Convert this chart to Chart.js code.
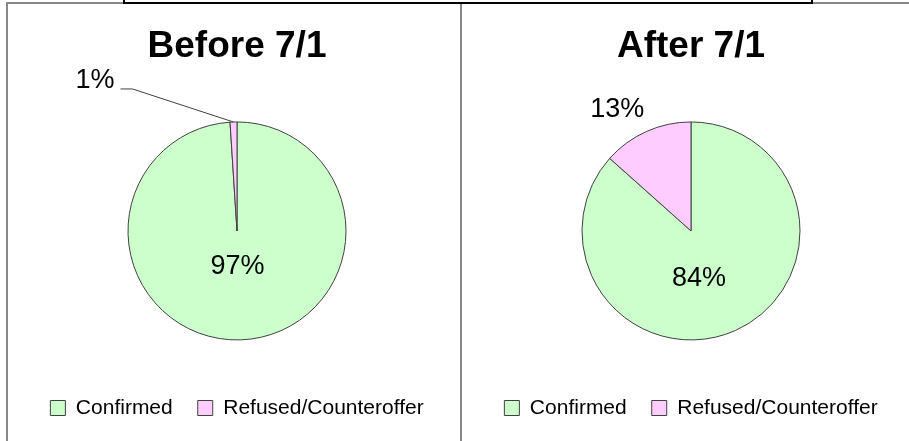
<!DOCTYPE html>
<html>
<head>
<meta charset="utf-8">
<script src="https://cdn.jsdelivr.net/npm/chart.js@4.4.0/dist/chart.umd.min.js"></script>
<style>
  html, body { margin: 0; padding: 0; background: #fff; overflow: hidden; }
  #wrap { position: relative; width: 909px; height: 441px; overflow: hidden; }
  canvas { position: absolute; top: 0; }
  .linea { position: absolute; background: #888; z-index: 2; }
</style>
</head>
<body>
<div id="wrap">
  <canvas id="antes" width="454" height="441" style="left:10px"></canvas>
  <canvas id="despues" width="454" height="441" style="left:464px"></canvas>
  <div class="linea" style="left:7px;top:2px;width:902px;height:2px"></div>
  <div class="linea" style="left:6px;top:2px;width:2px;height:439px"></div>
  <div class="linea" style="left:460px;top:2px;width:2px;height:439px"></div>
  <div style="position:absolute;left:123px;top:-6px;width:690px;height:10px;border:2px solid #000;box-sizing:border-box;z-index:3"></div>
</div>
<script>
var categorias = ['Confirmed', 'Refused/Counteroffer'];
var valoresAntes = [97, 1];
var valoresDespues = [84, 13];
var titulos = ['Before 7/1', 'After 7/1'];
var colores = ['#CCFFCC', '#FFCCFF'];

// etiquetas de porcentaje (no hay plugin datalabels, se dibujan a mano)
var etiquetasPlugin = {
    id: 'etiquetas',
    afterDatasetsDraw: function (chart, args, opts) {
        var ctx = chart.ctx;
        var meta = chart.getDatasetMeta(0);
        var valores = chart.data.datasets[0].data;
        ctx.save();
        ctx.font = '27px "Liberation Sans"';
        ctx.fillStyle = '#000';
        ctx.textAlign = 'center';
        ctx.textBaseline = 'middle';
        meta.data.forEach(function (arco, i) {
            var p = arco.getProps(['x', 'y', 'startAngle', 'endAngle', 'outerRadius'], true);
            var pos = opts.posiciones[i];
            var medio = (p.startAngle + p.endAngle) / 2;
            var ang = medio + pos.giro * Math.PI / 180;
            var lx = p.x + Math.cos(ang) * p.outerRadius * pos.radio;
            var ly = p.y + Math.sin(ang) * p.outerRadius * pos.radio;
            var texto = valores[i] + '%';
            ctx.fillText(texto, lx, ly);
            if (pos.guia) {
                var ancho = ctx.measureText(texto).width;
                var x0 = lx + ancho / 2 + 6;
                ctx.beginPath();
                ctx.moveTo(x0, ly + 8);
                ctx.lineTo(x0 + 12, ly + 8);
                ctx.lineTo(p.x + Math.cos(medio) * p.outerRadius, p.y + Math.sin(medio) * p.outerRadius);
                ctx.strokeStyle = '#404040';
                ctx.lineWidth = 1;
                ctx.stroke();
            }
        });
        ctx.restore();
    }
};

function crearPastel(id, titulo, valores, posiciones) {
    var ctx = document.getElementById(id).getContext('2d');
    new Chart(ctx, {
        type: 'pie',
        data: {
            labels: categorias,
            datasets: [{
                data: valores,
                backgroundColor: colores,
                borderColor: '#404040',
                borderWidth: 1,
                radius: 109
            }]
        },
        options: {
            responsive: false,
            animation: false,
            layout: { padding: { bottom: 12.5 } },
            plugins: {
                title: {
                    display: true,
                    text: titulo,
                    color: '#000',
                    font: { family: 'Liberation Sans', size: 37, weight: 'bold', lineHeight: 1.2 },
                    padding: { top: 25, bottom: 20 }
                },
                legend: {
                    position: 'bottom',
                    labels: {
                        color: '#000',
                        font: { family: 'Liberation Sans', size: 21 },
                        boxWidth: 15,
                        boxHeight: 15,
                        padding: 25
                    }
                },
                tooltip: { enabled: false },
                etiquetas: { posiciones: posiciones }
            }
        },
        plugins: [etiquetasPlugin]
    });
}

crearPastel('antes', titulos[0], valoresAntes, [
    { radio: 0.33, giro: 1 },
    { radio: 1.895, giro: -41.6, guia: true }
]);
crearPastel('despues', titulos[1], valoresDespues, [
    { radio: 0.447, giro: 14.6 },
    { radio: 1.30, giro: -7.2 }
]);
</script>
</body>
</html>
